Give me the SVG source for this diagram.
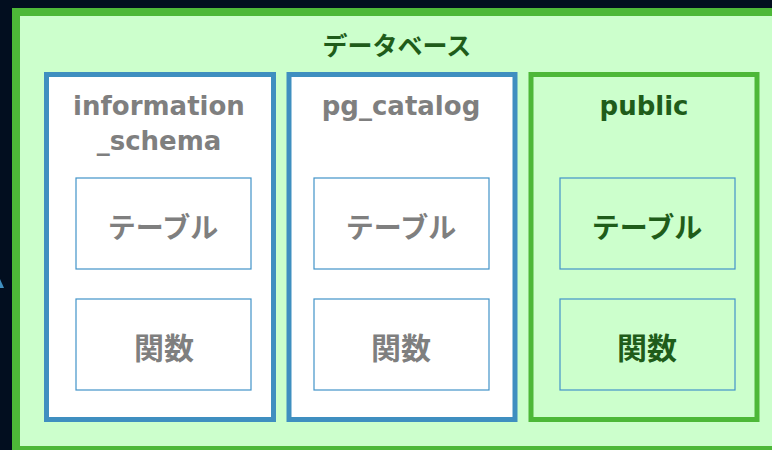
<svg xmlns="http://www.w3.org/2000/svg" width="772" height="450" viewBox="0 0 772 450">
<style>
.lat{font-family:"DejaVu Sans","Noto Sans CJK JP",sans-serif;font-weight:bold;font-size:26px;text-anchor:middle}
.jp{font-family:"Noto Sans CJK JP",sans-serif;font-weight:bold;text-anchor:middle}
.gray{fill:#7F7F7F}
.dg{fill:#1F5C1A}
.schemaB{fill:#FFFFFF;stroke:#3F8FC0;stroke-width:5}
.schemaG{fill:#CCFFCC;stroke:#4DB838;stroke-width:5}
.item{fill:none;stroke:#4293C8;stroke-width:1.2}
</style>
<rect x="0" y="0" width="772" height="450" fill="#020E1F"/>
<polygon points="0,279 4,288 0,288" fill="#3F8FC0"/>
<g id="database">
<rect x="16" y="12" width="770" height="438" fill="#CCFFCC" stroke="#4DB838" stroke-width="8"/>
<text class="jp dg" x="397" y="55" font-size="25">データベース</text>
</g>
<g id="information_schema">
<rect class="schemaB" x="46.5" y="74.5" width="227" height="345"/>
<text class="lat gray" x="159" y="115">information</text>
<text class="lat gray" x="159" y="150">_schema</text>
</g>
<g id="info-table">
<rect class="item" x="76" y="178" width="175" height="91"/>
<text class="jp gray" x="163" y="238" font-size="28">テーブル</text>
</g>
<g id="info-func">
<rect class="item" x="76" y="299" width="175" height="91"/>
<text class="jp gray" x="164" y="359" font-size="30">関数</text>
</g>
<g id="pg_catalog">
<rect class="schemaB" x="289" y="74.5" width="226" height="345"/>
<text class="lat gray" x="401" y="115">pg_catalog</text>
</g>
<g id="pg-table">
<rect class="item" x="314" y="178" width="175" height="91"/>
<text class="jp gray" x="401" y="238" font-size="28">テーブル</text>
</g>
<g id="pg-func">
<rect class="item" x="314" y="299" width="175" height="91"/>
<text class="jp gray" x="401" y="359" font-size="30">関数</text>
</g>
<g id="public">
<rect class="schemaG" x="531" y="74.5" width="226" height="345"/>
<text class="lat dg" x="644" y="115">public</text>
</g>
<g id="public-table">
<rect class="item" x="560" y="178" width="175" height="91"/>
<text class="jp dg" x="647" y="238" font-size="28">テーブル</text>
</g>
<g id="public-func">
<rect class="item" x="560" y="299" width="175" height="91"/>
<text class="jp dg" x="647" y="359" font-size="30">関数</text>
</g>
<g id="connectors"/>
</svg>
